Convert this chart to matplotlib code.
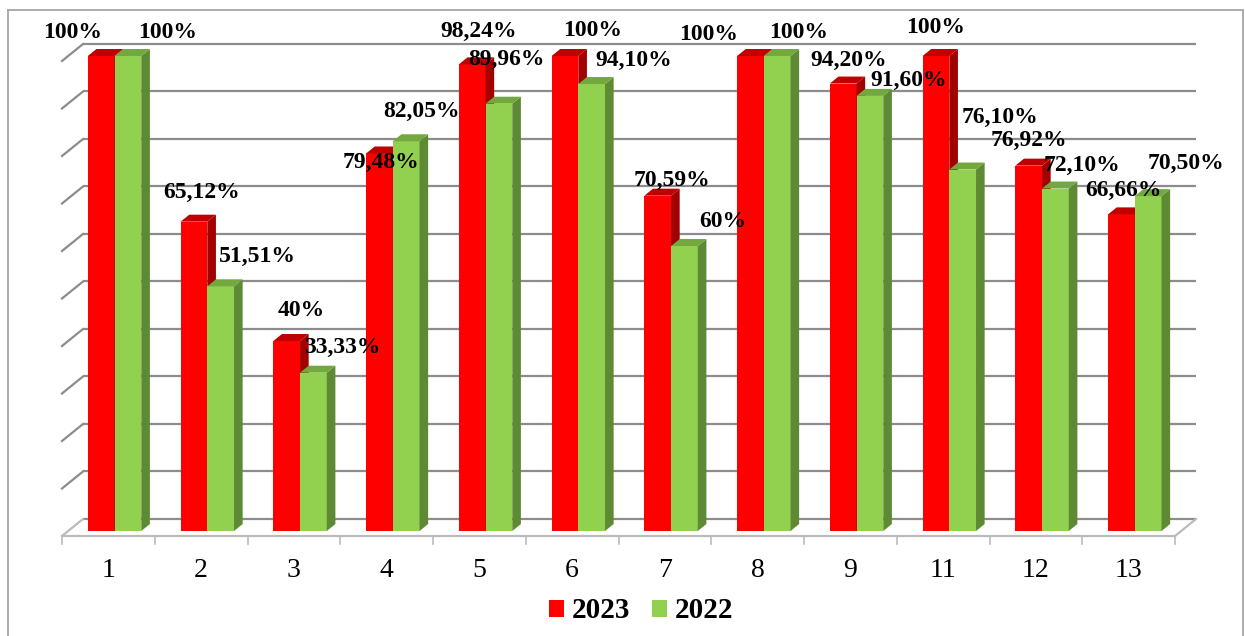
import matplotlib
matplotlib.use("Agg")
import matplotlib.pyplot as plt
from matplotlib.patches import Polygon, Patch
from matplotlib.lines import Line2D

categories = ["1", "2", "3", "4", "5", "6", "7", "8", "9", "11", "12", "13"]
values_2023 = [100, 65.12, 40, 79.48, 98.24, 100, 70.59, 100, 94.20, 100, 76.92, 66.66]
values_2022 = [100, 51.51, 33.33, 82.05, 89.96, 94.10, 60, 100, 91.60, 76.10, 72.10, 70.50]
series_names = ["2023", "2022"]

# label offsets from the front-top centre of each bar, in pixels (x right, y up)
offsets_2023 = [(-29, 23), (8, 29), (15, 30), (2, -9), (6, 33), (28, 25),
                (14, 15), (-42, 21), (5, 23), (0, 28), (0, 25), (2, 24)]
offsets_2022 = [(40, 23), (37, 30), (29, 25), (15, 30), (8, 44), (42, 24),
                (38, 24), (21, 23), (39, 15), (37, 52), (27, 23), (38, 33)]

plt.rcParams['font.family'] = ['Liberation Serif', 'DejaVu Serif']

# 3d look: floor depth and bar depth (data units)
DX, DY = 0.2264, 3.58      # full floor depth
FX, FY = 0.0666, 1.053     # bar front offset
BX, BY = 0.093, 1.47       # bar depth
W = 0.288                  # bar width

faces = {
    "2023": ("#FF0000", "#C00000", "#A30000"),
    "2022": ("#92D050", "#72A83E", "#5E8A34"),
}


def fmt(v):
    if float(v).is_integer():
        return f"{int(v)}%"
    return f"{v:.2f}".replace(".", ",") + "%"


def draw_bar(ax, x0, h, colors):
    front, top, side = colors
    y0, y1 = FY, FY + h
    ax.bar(x0, h, bottom=y0, width=W, align='edge', color=front,
           edgecolor='none', zorder=3)
    ax.add_patch(Polygon([(x0 + W, y0), (x0 + W, y1), (x0 + W + BX, y1 + BY),
                          (x0 + W + BX, y0 + BY)], closed=True,
                         facecolor=side, edgecolor='none', zorder=3))
    ax.add_patch(Polygon([(x0, y1), (x0 + W, y1), (x0 + W + BX, y1 + BY),
                          (x0 + BX, y1 + BY)], closed=True,
                         facecolor=top, edgecolor='none', zorder=3))


fig = plt.figure(figsize=(12.45, 6.36), dpi=100)
ax = fig.add_axes([0, 0, 1, 1])
ax.set_xlim(-62 / 92.75, (1245 - 62) / 92.75)
ax.set_ylim((536 - 636) / 4.75, 536 / 4.75)
ax.axis('off')

n = len(categories)
grid_col = "#8C8C8C"
floor_col = "#BBBBBB"

# back wall gridlines and side diagonals
for v in range(0, 101, 10):
    ax.plot([DX, n + DX], [DY + v, DY + v], color=grid_col, lw=1.6, zorder=1,
            solid_capstyle='butt')
    if v > 0:
        ax.plot([0, DX], [v, DY + v], color=grid_col, lw=1.6, zorder=1)

# floor
ax.plot([0, n], [0, 0], color=floor_col, lw=1.6, zorder=1)
ax.plot([0, DX], [0, DY], color=floor_col, lw=1.6, zorder=1)
ax.plot([n, n + DX], [0, DY], color=floor_col, lw=1.6, zorder=1)
for k in range(n + 1):
    ax.plot([k, k], [0, -1.6], color=floor_col, lw=1.2, zorder=1)

for i, cat in enumerate(categories):
    x_red = i + 0.5 - W + FX
    x_green = x_red + W
    draw_bar(ax, x_red, values_2023[i], faces["2023"])
    draw_bar(ax, x_green, values_2022[i], faces["2022"])
    ax.text(i + 0.5, -7.2, cat, ha='center', va='center', fontsize=20)

for i in range(n):
    x_red = i + 0.5 - W + FX
    for x0, v, off in ((x_red, values_2023[i], offsets_2023[i]),
                       (x_red + W, values_2022[i], offsets_2022[i])):
        ax.annotate(fmt(v), (x0 + W / 2, FY + v), xytext=off,
                    textcoords='offset pixels', ha='center', va='center',
                    fontsize=17, fontweight='bold', zorder=5)

handles = [Patch(facecolor=faces[s][0], edgecolor='none') for s in series_names]
leg = fig.legend(handles, series_names, loc='center',
                 bbox_to_anchor=(641 / 1245, 1 - 611 / 636), ncol=2,
                 frameon=False, handlelength=0.52, handleheight=0.52,
                 handletextpad=0.25, columnspacing=0.75, borderpad=0,
                 prop={'size': 21, 'weight': 'bold'})

# outer border
bc = "#A6A6A6"
fig.add_artist(Line2D([8 / 1245, 8 / 1245], [0, 1 - 10 / 636], color=bc, lw=1.3))
fig.add_artist(Line2D([8 / 1245, 1243 / 1245], [1 - 10 / 636, 1 - 10 / 636], color=bc, lw=1.3))
fig.add_artist(Line2D([1243 / 1245, 1243 / 1245], [0, 1 - 10 / 636], color=bc, lw=1.3))

fig.savefig("out.png", dpi=100)
